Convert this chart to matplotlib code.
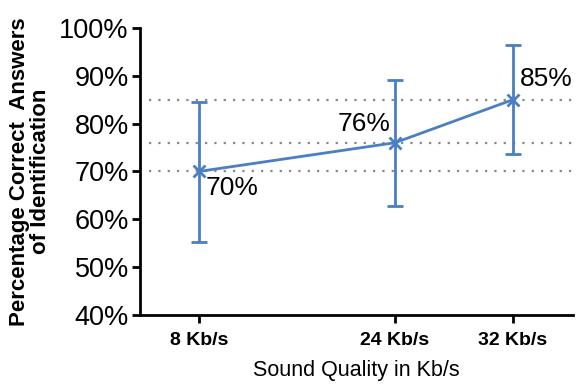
import matplotlib.pyplot as plt

# data
labels = ["8 Kb/s", "24 Kb/s", "32 Kb/s"]
positions = [59, 255, 373]          # uneven spacing as in the original
means = [70, 76, 85]
upper = [84.5, 89.2, 96.4]
lower = [55.3, 62.7, 73.6]
yticks = [40, 50, 60, 70, 80, 90, 100]

blue = "#4a7fc1"

plt.rcParams["font.family"] = ["Liberation Sans", "DejaVu Sans"]

fig = plt.figure(figsize=(5.77, 3.87), dpi=100)
ax = fig.add_axes([0.2426, 0.186, 0.7504, 0.742])

ax.set_xlim(0, 433)
ax.set_ylim(40, 100)

for m in means:
    ax.axhline(m, xmin=0.02, xmax=1, color="#888888", lw=1.6,
               linestyle=(0, (1, 3.2)), zorder=1)

err = [[m - lo for m, lo in zip(means, lower)],
       [hi - m for m, hi in zip(means, upper)]]
ax.errorbar(positions, means, yerr=err, color=blue, lw=2, marker="x",
            markersize=8, mew=2, capsize=6, capthick=2, elinewidth=2, zorder=3)

offsets = [(5, -12), (-3, 5), (5, 6)]
aligns = [("left", "center"), ("right", "bottom"), ("left", "bottom")]
for x, m, off, (ha, va) in zip(positions, means, offsets, aligns):
    ax.annotate(f"{m}%", (x, m), xytext=off, textcoords="offset points",
                ha=ha, va=va, fontsize=19)

ax.set_xticks(positions)
ax.set_xticklabels(labels, fontsize=14, fontweight="bold")
ax.set_yticks(yticks)
ax.set_yticklabels([f"{t}%" for t in yticks], fontsize=19.5)
ax.tick_params(axis="both", direction="out", length=6, width=2, color="black")
ax.tick_params(axis="x", pad=6)
ax.tick_params(axis="y", pad=2)

for side in ["top", "right"]:
    ax.spines[side].set_visible(False)
for side in ["left", "bottom"]:
    ax.spines[side].set_linewidth(2)

ax.set_xlabel("Sound Quality in Kb/s", fontsize=15.5, labelpad=8)
ax.set_ylabel("Percentage Correct  Answers\nof Identification", fontsize=16,
              fontweight="bold", linespacing=1.0, labelpad=6)

fig.savefig("out.png", dpi=100)
